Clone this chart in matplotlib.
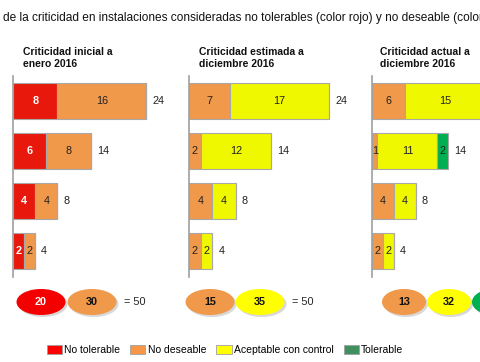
import matplotlib.pyplot as plt
from matplotlib.patches import Ellipse, Patch

plt.rcParams['font.family'] = ['Liberation Sans', 'DejaVu Sans']

W, H = 480, 362

niveles = ['No tolerable', 'No deseable', 'Aceptable con control', 'Tolerable']
colores_barra = ['#E8190C', '#F0994A', '#F0F800', '#00B050']
colores_elipse = ['#F50000', '#F0994A', '#FFFF00', '#00B050']
colores_leyenda = ['#FF0000', '#F79646', '#FFFF00', '#3F8F5F']

titulo = ('de la criticidad en instalaciones consideradas no tolerables '
          '(color rojo) y no deseable (color naranja)')
titulos = ['Criticidad inicial a\nenero 2016',
           'Criticidad estimada a\ndiciembre 2016',
           'Criticidad actual a\ndiciembre 2016']

# valores por fila (4 filas) y por nivel de criticidad
ini_no_tol = [8, 6, 4, 2]
ini_no_des = [16, 8, 4, 2]
ini_acep = [0, 0, 0, 0]
ini_tol = [0, 0, 0, 0]

est_no_tol = [0, 0, 0, 0]
est_no_des = [7, 2, 4, 2]
est_acep = [17, 12, 4, 2]
est_tol = [0, 0, 0, 0]

act_no_tol = [0, 0, 0, 0]
act_no_des = [6, 1, 4, 2]
act_acep = [15, 11, 4, 2]
act_tol = [3, 2, 0, 0]

paneles = [
    [ini_no_tol, ini_no_des, ini_acep, ini_tol],
    [est_no_tol, est_no_des, est_acep, est_tol],
    [act_no_tol, act_no_des, act_acep, act_tol],
]

# disposicion (pixeles)
x_eje = [13, 189, 372]
escala = [5.55, 5.85, 5.45]   # px por unidad
x_titulo = [23, 199, 380]
x_elipse = [41, 210, 404]
paso_elipse = [51, 50, 45]
ancho_elipse = [49, 49, 44]

fig = plt.figure(figsize=(W / 100, H / 100), dpi=100)
fig.patch.set_facecolor('white')

fig.text(3 / W, 1 - 18 / H, titulo, fontsize=8.6, va='center', ha='left',
         color='#111111')

filas = range(4)
for p, datos in enumerate(paneles):
    ancho_px = 200
    ax = fig.add_axes([x_eje[p] / W, (H - 277) / H, ancho_px / W, 201 / H])
    ax.set_xlim(0, ancho_px / escala[p])
    ax.set_ylim(3.52, -0.5)
    izq = [0, 0, 0, 0]
    for n, vals in enumerate(datos):
        ax.barh(list(filas), vals, left=izq, height=0.72,
                color=colores_barra[n], edgecolor='#A8A8A8', linewidth=0.8)
        for i in filas:
            if vals[i] > 0:
                blanco = n == 0
                ax.text(izq[i] + vals[i] / 2, i, str(vals[i]),
                        ha='center', va='center', fontsize=7.8,
                        color='white' if blanco else '#222222',
                        fontweight='bold' if blanco else 'normal')
        izq = [a + b for a, b in zip(izq, vals)]
    for i in filas:
        ax.text(izq[i] + 6 / escala[p], i, str(izq[i]), ha='left',
                va='center', fontsize=7.8, color='#222222')
    for s in ['top', 'right', 'bottom']:
        ax.spines[s].set_visible(False)
    ax.spines['left'].set_color('#A0A0A0')
    ax.spines['left'].set_linewidth(1.2)
    ax.set_xticks([])
    ax.set_yticks([])
    ax.patch.set_alpha(0)

    fig.text(x_titulo[p] / W, 1 - 47 / H, titulos[p], fontsize=7.5,
             fontweight='bold', va='top', ha='left', color='#111111',
             linespacing=1.25)

# capa superior en pixeles para las elipses
capa = fig.add_axes([0, 0, 1, 1])
capa.set_xlim(0, W)
capa.set_ylim(H, 0)
capa.axis('off')
capa.patch.set_alpha(0)

yc = 302
for p, datos in enumerate(paneles):
    totales = [sum(v) for v in datos]
    k = 0
    for n, t in enumerate(totales):
        if t == 0:
            continue
        xc = x_elipse[p] + k * paso_elipse[p]
        capa.add_patch(Ellipse((xc + 2, yc + 2), ancho_elipse[p], 26,
                               facecolor='#D8D8D8', edgecolor='none'))
        capa.add_patch(Ellipse((xc, yc), ancho_elipse[p], 26,
                               facecolor=colores_elipse[n], edgecolor='none'))
        capa.text(xc, yc, str(t), ha='center', va='center', fontsize=7.8,
                  fontweight='bold',
                  color='white' if n == 0 else '#111111')
        k += 1
    x_fin = x_elipse[p] + (k - 1) * paso_elipse[p] + ancho_elipse[p] / 2 + 7
    capa.text(x_fin, yc, '= %d' % sum(totales), ha='left', va='center',
              fontsize=7.8, color='#222222')

manejadores = [Patch(facecolor=c, edgecolor='#A0A0A0', linewidth=0.6)
               for c in colores_leyenda]
fig.legend(manejadores, niveles, loc='center', bbox_to_anchor=(225 / W, 1 - 350 / H),
           ncol=4, frameon=False, fontsize=7.5, handlelength=1.45,
           handleheight=1.0, handletextpad=0.2, columnspacing=1.0,
           borderpad=0)

fig.savefig('out.png', dpi=100)
